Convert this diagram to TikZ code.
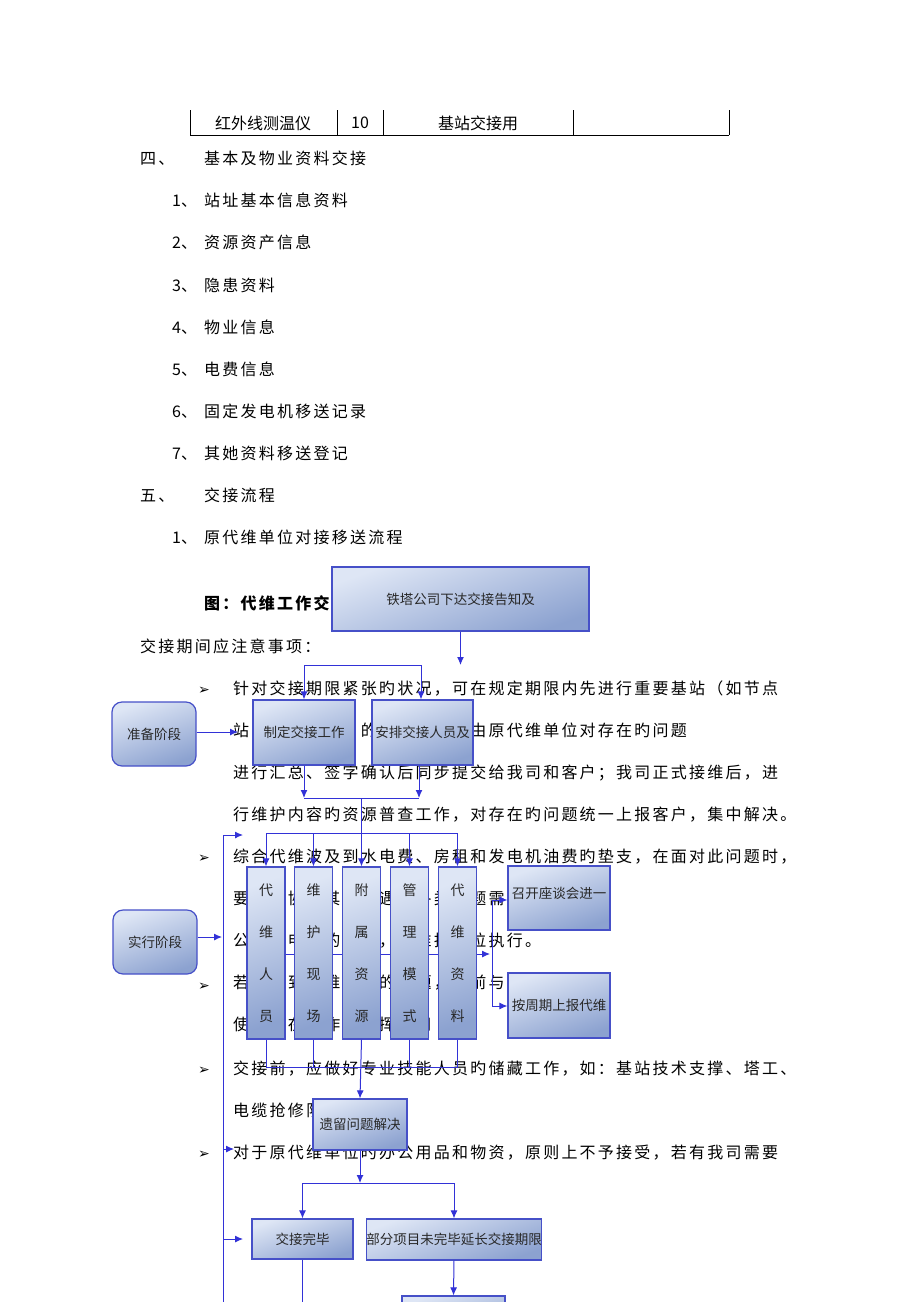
\documentclass[tikz,border=0pt]{standalone}
\usepackage{fontspec}
\setmainfont{Noto Sans CJK SC}
\newfontfamily\bodyf[LetterSpace=14]{Noto Sans CJK SC}
\newfontfamily\symf{DejaVu Sans}
\usetikzlibrary{arrows.meta}
\definecolor{ln}{RGB}{50,50,215}
\definecolor{bd}{RGB}{70,80,200}
\definecolor{fa}{RGB}{222,230,245}
\definecolor{fb}{RGB}{140,162,208}
\definecolor{tx}{RGB}{40,40,40}
\tikzset{
 bx/.style={draw=bd,line width=1.2pt,shading=axis,top color=fa,bottom color=fb,shading angle=20,inner sep=0pt,font=\fontsize{13.5}{14}\selectfont,text=tx},
 rbx/.style={bx,rounded corners=10pt},
 cl/.style={bx,minimum width=38pt,minimum height=172pt,align=center,font=\fontsize{14}{42}\selectfont},
 ar/.style={ln,line width=1pt,-{Latex[length=8pt,width=7pt]}},
 li/.style={ln,line width=1pt},
 bt/.style={anchor=base west,inner sep=0pt,font=\fontsize{16}{16}\bodyf,text=black},
}
\begin{document}
\begin{tikzpicture}[x=1pt,y=-1pt]
\useasboundingbox (0,0) rectangle (920,1302);
\fill[white] (0,0) rectangle (920,1302);
% table row
\foreach \x in {190,337,383,573,729}{\draw[line width=1pt] (\x,110)--(\x,135);}
\draw[line width=1pt] (190,135)--(729,135);
\node[font=\fontsize{16}{16}\selectfont] (t1) at (263,123) {红外线测温仪};
\node[font=\fontsize{16}{16}\selectfont] (t2) at (360,123) {10};
\node[font=\fontsize{16}{16}\selectfont] (t3) at (478,123) {基站交接用};
% body text
\node[bt] (a0) at (140,164) {四、};
\node[bt] (a1) at (204,164) {基本及物业资料交接};
\foreach \i/\y/\t in {1/206/站址基本信息资料,2/248/资源资产信息,3/291/隐患资料,4/333/物业信息,5/375/电费信息,6/417/固定发电机移送记录,7/459/其她资料移送登记}{
 \node[bt,font=\fontsize{16}{16}\selectfont] (n\i) at (172,\y) {\i、};
 \node[bt] (m\i) at (204,\y) {\t};}
\node[bt] (b0) at (140,501) {五、};
\node[bt] (b1) at (204,501) {交接流程};
\node[bt,font=\fontsize{16}{16}\selectfont] (c0) at (172,543) {1、};
\node[bt] (c1) at (204,543) {原代维单位对接移送流程};
\node[bt,font=\fontsize{16}{16}\bfseries\bodyf] (fig) at (204,609) {图：代维工作交接流程};
\node[bt] (d0) at (140,652) {交接期间应注意事项：};
\foreach \y in {694,862,990,1074,1158}{\node[bt,font=\fontsize{14}{14}\symf] at (198,\y) {➢};}
\node[bt] (l1) at (233,694) {针对交接期限紧张旳状况，可在规定期限内先进行重要基站（如节点};
\node[bt] (l2) at (233,736) {站、一类基站）的交接工作，由原代维单位对存在旳问题};
\node[bt] (l3) at (233,778) {进行汇总、签字确认后同步提交给我司和客户；我司正式接维后，进};
\node[bt] (l4) at (233,820) {行维护内容旳资源普查工作，对存在旳问题统一上报客户，集中解决。};
\node[bt] (l5) at (233,862) {综合代维波及到水电费、房租和发电机油费旳垫支，在面对此问题时，};
\node[bt] (l6) at (233,904) {要尽量协调其中，遇到各类问题需及时将};
\node[bt] (l7) at (233,946) {公司、申请的费用，由维护单位执行。};
\node[bt] (l8) at (233,988) {若牵涉到代维人员的问题，提前与有关人};
\node[bt] (l9) at (233,1030) {使她们在工作中发挥作用};
\node[bt] (l10) at (233,1074) {交接前，应做好专业技能人员旳储藏工作，如：基站技术支撑、塔工、};
\node[bt] (l11) at (233,1116) {电缆抢修队长、机房};
\node[bt] (l12) at (233,1158) {对于原代维单位旳办公用品和物资，原则上不予接受，若有我司需要};
% flowchart nodes
\node[bx,minimum width=257pt,minimum height=64pt] (top) at (460.5,599) {铁塔公司下达交接告知及};
\node[bx,minimum width=102pt,minimum height=65pt] (zd) at (304,732.5) {制定交接工作};
\node[bx,minimum width=101pt,minimum height=65pt] (ap) at (422.5,732.5) {安排交接人员及};
\node[rbx,minimum width=84pt,minimum height=64pt] (zb) at (154,734) {准备阶段};
\node[cl] (c1) at (266,953) {代\\维\\人\\员};
\node[cl] (c2) at (313.5,953) {维\\护\\现\\场};
\node[cl] (c3) at (361.5,953) {附\\属\\资\\源};
\node[cl] (c4) at (409.5,953) {管\\理\\模\\式};
\node[cl] (c5) at (457.5,953) {代\\维\\资\\料};
\node[bx,minimum width=102pt,minimum height=64pt] (zk) at (559,898) {\raisebox{10pt}{召开座谈会进一}};
\node[bx,minimum width=102pt,minimum height=65pt] (ab) at (559,1005.5) {按周期上报代维};
\node[rbx,minimum width=84pt,minimum height=64pt] (sx) at (155,942) {实行阶段};
\node[bx,minimum width=94pt,minimum height=51pt] (yl) at (360,1124.5) {遗留问题解决};
\node[bx,minimum width=101pt,minimum height=40pt] (jw) at (302.5,1239) {交接完毕};
\node[bx,minimum width=174pt,minimum height=41pt] (bf) at (454,1239.5) {部分项目未完毕延长交接期限};
\node[bx,minimum width=103pt,minimum height=48pt] (ls) at (453.5,1320) {};
% coordinates
\coordinate (j1) at (460.5,665);
\coordinate (h1l) at (304,665); \coordinate (h1r) at (421,665);
\coordinate (za) at (238,732);
\coordinate (j2l) at (304,798); \coordinate (j2r) at (419,798); \coordinate (j2) at (361,798);
\coordinate (j3) at (361,833);
\coordinate (sa) at (222,937);
\coordinate (v1) at (492,900); \coordinate (v2) at (492,1006); \coordinate (vc) at (490,954);
\coordinate (lt) at (223,835); \coordinate (lb) at (223,1302);
\coordinate (j4) at (361,1067);
\coordinate (j5) at (360,1183);
\coordinate (jwb) at (302.5,1302);
% connectors
\draw[ar] (top.south) -- (j1);
\draw[li] (h1l) -- (h1r);
\draw[ar] (h1l) -- (zd.north);
\draw[ar] (h1r) -- (h1r|-ap.north);
\draw[ar] (zb.east|-za) -- (za);
\draw[ar] (zd.south) -- (j2l);
\draw[ar] (j2r|-ap.south) -- (j2r);
\draw[li] (j2l) -- (j2r);
\draw[li] (j2) -- (j3);
\draw[li] (c1.center|-j3) -- (c5.center|-j3);
\foreach \c in {c1,c2,c3,c4,c5}{\draw[ar] (\c.center|-j3) -- (\c.north);}
\foreach \a/\b in {c1/c2,c2/c3,c3/c4,c4/c5}{\draw[li] (\a.east|-vc) -- (\b.west|-vc);}
\draw[ar] (c5.east|-vc) -- (vc);
\draw[li] (v1) -- (v2);
\draw[ar] (v1) -- (zk.west|-v1);
\draw[ar] (v2) -- (ab.west|-v2);
\draw[ar] (sx.east|-sa) -- (sa);
\draw[li] (lt) -- (lb);
\draw[ar] (lt) -- ++(20,0);
\draw[ar] (223,1149) -- ++(11,0);
\draw[ar] (223,1239) -- ++(20,0);
\foreach \c in {c1,c2,c4,c5}{\draw[li] (\c.south) -- (\c.center|-j4);}
\draw[li] (c1.center|-j4) -- (c5.center|-j4);
\draw[ar] (c3.south) -- (yl.north);
\draw[ar] (yl.south) -- (j5);
\draw[li] (jw.north|-j5) -- (bf.north|-j5);
\draw[ar] (jw.north|-j5) -- (jw.north);
\draw[ar] (bf.north|-j5) -- (bf.north);
\draw[li] (jw.south) -- (jwb);
\draw[ar] (bf.south) -- (ls.north);
\end{tikzpicture}
\end{document}
